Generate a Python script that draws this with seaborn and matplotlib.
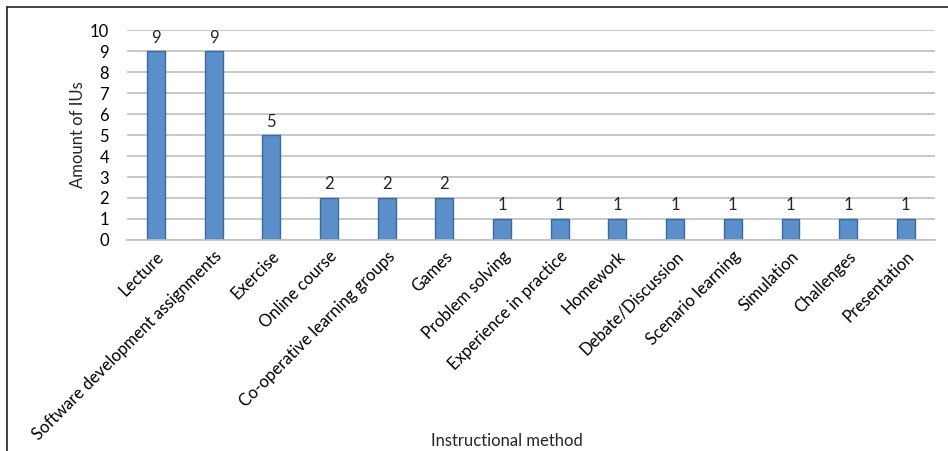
import matplotlib
matplotlib.use("Agg")
import matplotlib.pyplot as plt
import seaborn as sns
import pandas as pd
from matplotlib.lines import Line2D

categories = ["Lecture", "Software development assignments", "Exercise", "Online course",
              "Co-operative learning groups", "Games", "Problem solving", "Experience in practice",
              "Homework", "Debate/Discussion", "Scenario learning", "Simulation", "Challenges",
              "Presentation"]
values = [9, 9, 5, 2, 2, 2, 1, 1, 1, 1, 1, 1, 1, 1]
yticks = list(range(0, 11))

sns.set_theme(style="white")
plt.rcParams['font.family'] = ['Lato', 'DejaVu Sans']

df = pd.DataFrame({"method": categories, "amount": values})

fig = plt.figure(figsize=(9.48, 4.51), dpi=100)
ax = fig.add_axes([0.134, 0.468, 0.852, 0.465])

sns.barplot(data=df, x="method", y="amount", ax=ax, color="#5B8FC9",
            width=0.31, edgecolor="#3A6B9C", linewidth=1.0, saturation=1)

ax.set_ylim(0, 10)
ax.set_xlim(-0.5, len(categories) - 0.5)
ax.set_yticks(yticks)
ax.yaxis.grid(True, color="#BFBFBF", linewidth=1.2)
ax.set_axisbelow(True)
for s in ["top", "right", "left"]:
    ax.spines[s].set_visible(False)
ax.spines["bottom"].set_color("#BFBFBF")
ax.spines["bottom"].set_linewidth(1.2)
ax.tick_params(axis="both", length=0, labelsize=12, colors="black")
ax.tick_params(axis="y", pad=13)
ax.set_xticks(range(len(categories)))
ax.set_xticklabels(categories, rotation=45, ha="right", rotation_mode="anchor", fontsize=12)
ax.tick_params(axis="x", pad=6)

for c in ax.containers:
    ax.bar_label(c, labels=[str(v) for v in values], padding=4, fontsize=12)

ax.set_xlabel("Instructional method", fontsize=12, labelpad=0)
ax.xaxis.set_label_coords(0.47, -0.92)
ax.set_ylabel("Amount of IUs", fontsize=12, labelpad=3)

# outer frame (top and left)
fig.add_artist(Line2D([7/948, 948/948], [1 - 7/451, 1 - 7/451], color="#222222", lw=1.2,
                      transform=fig.transFigure))
fig.add_artist(Line2D([7/948, 7/948], [0, 1 - 7/451], color="#222222", lw=1.2,
                      transform=fig.transFigure))

fig.savefig("out.png", dpi=100)
